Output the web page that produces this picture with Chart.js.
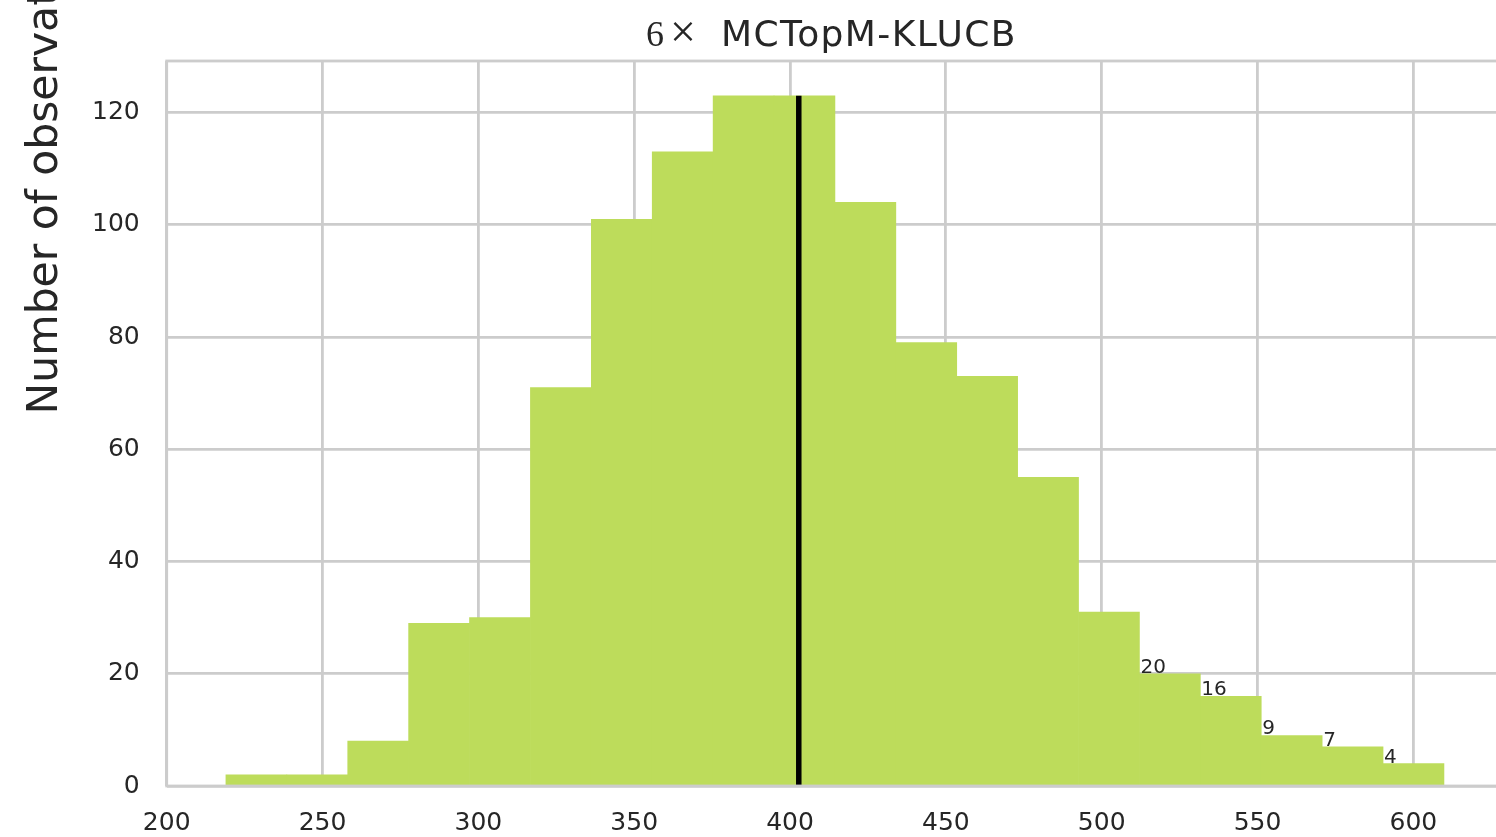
<!DOCTYPE html>
<html>
<head>
<meta charset="utf-8">
<script src="https://cdn.jsdelivr.net/npm/chart.js@4.4.1/dist/chart.umd.min.js"></script>
<style>
  html, body { margin: 0; padding: 0; background: #ffffff; }
  .box { width: 1496px; height: 837px; position: relative; }
</style>
</head>
<body>
<div class="box"><canvas id="histChart"></canvas></div>
<script>
// histogram of the regret at the end, 20 bins
const binStart = 219.0;
const binWidth = 19.54;
const counts = [2, 2, 8, 29, 30, 71, 101, 113, 123, 123, 104, 79, 73, 55, 31, 20, 16, 9, 7, 4];
// bins that carry their count as a small text
const labeledBins = [15, 16, 17, 18, 19];
const meanValue = 402.8;

const xTicks = [200, 250, 300, 350, 400, 450, 500, 550, 600];
const yTicks = [0, 20, 40, 60, 80, 100, 120];

const titleMath = "6";
const titleTimes = "\u00d7";
const titleName = "MCTopM-KLUCB";
const yTitle = "Number of observations";

const textColor = "#262626";
const gridColor = "#cccccc";
const barColor = "#bddc5b";

// bar data: one point per bin center
const barPoints = counts.map((c, i) => ({ x: binStart + binWidth * (i + 0.5), y: c }));
const meanLine = [{ x: meanValue, y: 0 }, { x: meanValue, y: Math.max(...counts) }];

// draws title, y label, frame and the bin counts
const decorations = {
  id: "decorations",
  afterDatasetsDraw(chart) {
    const { ctx, chartArea } = chart;
    const xs = chart.scales.x;
    const ys = chart.scales.y;
    ctx.save();

    // frame (spines) in light grey, above the bars
    ctx.strokeStyle = gridColor;
    ctx.lineWidth = 2.8;
    ctx.strokeRect(chartArea.left, chartArea.top, chartArea.right - chartArea.left + 5, chartArea.bottom - chartArea.top);

    // small counts over the last bins
    ctx.fillStyle = textColor;
    ctx.font = "20px 'DejaVu Sans'";
    ctx.textAlign = "left";
    ctx.textBaseline = "alphabetic";
    labeledBins.forEach(i => {
      const px = xs.getPixelForValue(binStart + binWidth * i) + 1;
      const py = ys.getPixelForValue(counts[i]) - 1;
      ctx.fillText(String(counts[i]), px, py);
    });
    ctx.restore();
  },
  afterDraw(chart) {
    const { ctx, chartArea } = chart;
    ctx.save();
    ctx.fillStyle = textColor;

    // title: math part in a serif font, name in sans
    const cx = (chartArea.left + chartArea.right) / 2;
    const base = chartArea.top - 15.5;
    ctx.font = "36px 'DejaVu Sans'";
    ctx.letterSpacing = "1.4px";
    const nameW = ctx.measureText(titleName).width;
    const left = cx - (75 + nameW) / 2;
    ctx.textAlign = "left";
    ctx.textBaseline = "alphabetic";
    ctx.fillText(titleName, left + 75, base);
    ctx.letterSpacing = "0px";
    ctx.font = "36px 'Liberation Serif'";
    ctx.fillText(titleMath, left, base);
    ctx.textAlign = "center";
    ctx.font = "46px 'Liberation Serif'";
    ctx.fillText(titleTimes, left + 37, base + 1);

    // y axis title, partly off the canvas like the original
    ctx.translate(chartArea.left - 109.7, chartArea.top + 353.5);
    ctx.rotate(-Math.PI / 2);
    ctx.font = "42.5px 'DejaVu Sans'";
    ctx.textAlign = "left";
    ctx.textBaseline = "alphabetic";
    ctx.fillText(yTitle, 0, 0);
    ctx.restore();
  }
};

const ctx = document.getElementById("histChart").getContext("2d");
const histChart = new Chart(ctx, {
  type: "bar",
  data: {
    datasets: [
      {
        type: "line",
        data: meanLine,
        borderColor: "#000000",
        borderWidth: 5.5,
        pointRadius: 0,
        fill: false,
        order: 0
      },
      {
        data: barPoints,
        backgroundColor: barColor,
        borderWidth: 0,
        barPercentage: 1,
        categoryPercentage: 1,
        order: 1
      }
    ]
  },
  options: {
    responsive: true,
    maintainAspectRatio: false,
    animation: false,
    layout: { autoPadding: false, padding: { top: 61, left: 0, right: 0, bottom: 0 } },
    plugins: {
      legend: { display: false },
      title: { display: false },
      tooltip: { enabled: false }
    },
    scales: {
      x: {
        type: "linear",
        min: 200,
        max: 626.5,
        offset: false,
        afterBuildTicks: s => { s.ticks = xTicks.map(v => ({ value: v })); },
        afterFit: s => { s.height = 51; },
        grid: { color: gridColor, lineWidth: 2.8, drawTicks: false, offset: false },
        border: { display: false },
        ticks: {
          color: textColor,
          font: { family: "'DejaVu Sans'", size: 25 },
          padding: 22,
          maxRotation: 0,
          autoSkip: false
        }
      },
      y: {
        type: "linear",
        min: 0,
        max: 129.2,
        afterBuildTicks: s => { s.ticks = yTicks.map(v => ({ value: v })); },
        afterFit: s => { s.width = 166.7; },
        grid: { color: gridColor, lineWidth: 2.8, drawTicks: false },
        border: { display: false },
        ticks: {
          color: textColor,
          font: { family: "'DejaVu Sans'", size: 25 },
          padding: 27
        }
      }
    }
  },
  plugins: [decorations]
});
</script>
</body>
</html>
